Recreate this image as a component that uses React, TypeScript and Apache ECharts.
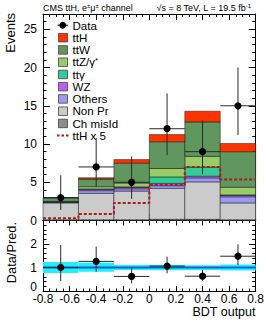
import React, { useEffect, useRef } from 'react';
import * as echarts from 'echarts';

// ---------------- data ----------------
const binEdges = [-0.8, -0.5333, -0.2667, 0, 0.2667, 0.5333, 0.8];
const binCenters = [-0.6667, -0.4, -0.1333, 0.1333, 0.4, 0.6667];

const chMisId = [0.1, 0.1, 0.1, 0.15, 0.15, 0.1];
const nonPr = [2.2, 3.45, 3.75, 4.05, 4.9, 2.2];
const others = [0.1, 0.35, 0.3, 0.35, 0.52, 0.8];
const wz = [0.05, 0.2, 0.2, 0.3, 0.22, 0.2];
const ttGamma = [0.0, 0.02, 0.05, 0.85, 1.2, 0.05];
const ttZ = [0.05, 0.3, 0.5, 1.1, 1.4, 1.0];
const ttW = [0.45, 1.0, 2.6, 3.5, 4.5, 4.65];
const ttH = [0.06, 0.17, 0.46, 0.93, 1.4, 1.07];
const ttHx5 = [0.3, 0.85, 2.3, 4.65, 7.0, 5.35];

const dataCounts = [3, 7, 5, 12, 9, 15];
const dataErrLo = [1.63, 2.58, 2.16, 3.42, 2.94, 3.82];
const dataErrHi = [2.92, 3.77, 3.38, 4.61, 4.11, 5.0];

const ratio = [1.0, 1.26, 0.62, 1.06, 0.63, 1.48];
const ratioErrLo = [0.57, 0.44, 0.29, 0.31, 0.2, 0.38];
const ratioErrHi = [0.96, 0.63, 0.38, 0.4, 0.26, 0.51];
const systLo = [0.77, 0.82, 0.89, 0.88, 0.89, 0.87];
const systHi = [1.23, 1.2, 1.11, 1.12, 1.1, 1.13];
const statLo = [0.95, 0.95, 0.96, 0.96, 0.96, 0.96];
const statHi = [1.05, 1.05, 1.04, 1.04, 1.04, 1.04];

const titleLeft = 'CMS ttH, e{s|±}μ{s|±} channel';
const titleRight = '√s = 8 TeV, L = 19.5 fb{s|-1}';
const legendLabels = ['Data', 'ttH', 'ttW', 'ttZ/γ{s|*}', 'ttγ', 'WZ', 'Others', 'Non Pr', 'Ch misId', 'ttH x 5'];

// ---------------- styles ----------------
const FONT = '"Liberation Sans", Arial, Helvetica, sans-serif';
const colors: Record<string, string> = {
  chMisId: '#8c8c8c',
  nonPr: '#cbcbcb',
  others: '#9a9af5',
  wz: '#c25cf0',
  ttGamma: '#33cc99',
  ttZ: '#99cc66',
  ttW: '#5f975f',
  ttH: '#ff3300',
  ttHx5: '#a81c1c',
};

const layers = [
  { key: 'chMisId', values: chMisId },
  { key: 'nonPr', values: nonPr },
  { key: 'others', values: others },
  { key: 'wz', values: wz },
  { key: 'ttGamma', values: ttGamma },
  { key: 'ttZ', values: ttZ },
  { key: 'ttW', values: ttW },
  { key: 'ttH', values: ttH },
];
const legendKeys = ['data', 'ttH', 'ttW', 'ttZ', 'ttGamma', 'wz', 'others', 'nonPr', 'chMisId', 'ttHx5'];

const rectRender = (fill: string, stroke: string, lw: number) => (params: any, api: any) => {
  const a = api.coord([api.value(0), api.value(3)]);
  const b = api.coord([api.value(1), api.value(2)]);
  return {
    type: 'rect',
    shape: { x: a[0], y: a[1], width: b[0] - a[0], height: b[1] - a[1] },
    style: { fill, stroke, lineWidth: lw },
  };
};

const errRender = (r: number) => (params: any, api: any) => {
  const x = api.value(0);
  const y = api.value(1);
  const lo = api.value(2);
  const hi = api.value(3);
  const c = api.coord([x, y]);
  const pl = api.coord([api.value(4), y]);
  const pr = api.coord([api.value(5), y]);
  const pLo = api.coord([x, y - lo]);
  const pHi = api.coord([x, y + hi]);
  const ls = { stroke: '#2a2a2a', lineWidth: 1 };
  return {
    type: 'group',
    children: [
      { type: 'line', shape: { x1: pl[0], y1: c[1], x2: pr[0], y2: c[1] }, style: ls },
      { type: 'line', shape: { x1: c[0], y1: pLo[1], x2: c[0], y2: pHi[1] }, style: ls },
      { type: 'circle', shape: { cx: c[0], cy: c[1], r }, style: { fill: '#000' } },
    ],
  };
};

function buildOption() {
  const series: any[] = [];
  const cum = binCenters.map(() => 0);
  layers.forEach((layer) => {
    const data = layer.values.map((v, i) => {
      const base = cum[i];
      cum[i] += v;
      return [binEdges[i], binEdges[i + 1], base, cum[i]];
    });
    series.push({
      type: 'custom',
      name: layer.key,
      xAxisIndex: 0,
      yAxisIndex: 0,
      encode: { x: [0, 1], y: [2, 3] },
      renderItem: rectRender(colors[layer.key], 'rgba(0,0,0,0.55)', 0.8),
      data,
      z: 2,
    });
  });

  // ttH x 5 step line
  const stepData = ttHx5.map((v, i) => [binEdges[i], v]);
  stepData.push([binEdges[6], ttHx5[5]]);
  series.push({
    type: 'line',
    name: 'ttHx5',
    xAxisIndex: 0,
    yAxisIndex: 0,
    step: 'end',
    symbol: 'none',
    data: stepData,
    lineStyle: { color: colors.ttHx5, width: 2, type: [3, 2] },
    z: 3,
  });

  // data points
  series.push({
    type: 'custom',
    name: 'data',
    xAxisIndex: 0,
    yAxisIndex: 0,
    renderItem: errRender(3.6),
    data: dataCounts.map((v, i) => [binCenters[i], v, dataErrLo[i], dataErrHi[i], binEdges[i], binEdges[i + 1]]),
    z: 5,
  });

  // ratio bands
  series.push({
    type: 'custom',
    name: 'syst',
    xAxisIndex: 2,
    yAxisIndex: 2,
    encode: { x: [0, 1], y: [2, 3] },
    renderItem: rectRender('#1ff0ff', 'none', 0),
    data: systLo.map((v, i) => [binEdges[i], binEdges[i + 1], v, systHi[i]]),
    z: 2,
  });
  series.push({
    type: 'custom',
    name: 'stat',
    xAxisIndex: 2,
    yAxisIndex: 2,
    encode: { x: [0, 1], y: [2, 3] },
    renderItem: rectRender('#00b4e8', 'none', 0),
    data: statLo.map((v, i) => [binEdges[i], binEdges[i + 1], v, statHi[i]]),
    z: 2,
  });
  series.push({
    type: 'line',
    name: 'unity',
    xAxisIndex: 2,
    yAxisIndex: 2,
    symbol: 'none',
    data: [[binEdges[0], 1], [binEdges[6], 1]],
    lineStyle: { color: '#1a55d0', width: 1.5 },
    z: 3,
  });
  series.push({
    type: 'custom',
    name: 'ratio',
    xAxisIndex: 2,
    yAxisIndex: 2,
    renderItem: errRender(3.6),
    data: ratio.map((v, i) => [binCenters[i], v, ratioErrLo[i], ratioErrHi[i], binEdges[i], binEdges[i + 1]]),
    z: 5,
  });

  const black = { color: '#000' };
  const axisBase = (majorLen: number, minorLen: number, split: number) => ({
    axisLine: { show: true, onZero: false, lineStyle: { color: '#000', width: 1 } },
    axisTick: { show: true, inside: true, length: majorLen, lineStyle: black },
    minorTick: { show: true, splitNumber: split, length: minorLen, lineStyle: black },
    splitLine: { show: false },
    minorSplitLine: { show: false },
  });
  const xFmt = (v: number) => {
    const r = Math.round(v * 10) / 10;
    return r === 0 ? '0' : String(r);
  };
  const labelStyle = { color: '#000', fontSize: 12, fontFamily: FONT };

  const xAxes = [
    { gridIndex: 0, position: 'bottom', ...axisBase(6, 3, 4), axisLabel: { show: false } },
    { gridIndex: 0, position: 'top', ...axisBase(6, 3, 4), axisLabel: { show: false } },
    {
      gridIndex: 1,
      position: 'bottom',
      ...axisBase(5, 2.5, 4),
      axisLabel: { show: true, margin: 3, lineHeight: 10, formatter: xFmt, ...labelStyle, showMinLabel: true, showMaxLabel: true },
    },
    { gridIndex: 1, position: 'top', ...axisBase(5, 2.5, 4), axisLabel: { show: false } },
  ].map((a) => ({ type: 'value', min: -0.8, max: 0.8, interval: 0.2, ...a }));

  const ratioYFmt = (v: number) => (v === 0 ? '{z|0}' : String(v));

  const yAxes = [
    { gridIndex: 0, position: 'left', min: 0, max: 27, interval: 5, ...axisBase(7, 3.5, 5), axisLabel: { show: true, margin: 6, showMaxLabel: false, lineHeight: 10, ...labelStyle } },
    { gridIndex: 0, position: 'right', min: 0, max: 27, interval: 5, ...axisBase(7, 3.5, 5), axisLabel: { show: false } },
    {
      gridIndex: 1,
      position: 'left',
      min: 0,
      max: 3,
      interval: 1,
      ...axisBase(6.5, 3.5, 5),
      axisLabel: {
        show: true,
        margin: 6,
        showMaxLabel: false,
        lineHeight: 6,
        formatter: ratioYFmt,
        ...labelStyle,
        rich: { z: { fontSize: 12, fontFamily: FONT, color: '#000', lineHeight: 6, padding: [0, 0, 9, 0] } },
      },
    },
    { gridIndex: 1, position: 'right', min: 0, max: 3, interval: 1, ...axisBase(6.5, 3.5, 5), axisLabel: { show: false } },
  ].map((a) => ({ type: 'value', ...a }));

  // legend graphics
  const legendEls: any[] = [];
  const lx = 58;
  legendLabels.forEach((label, i) => {
    const cy = 25.2 + 12.25 * i;
    const key = legendKeys[i];
    if (key === 'data') {
      legendEls.push({ type: 'line', shape: { x1: lx - 0.5, y1: cy, x2: lx + 10, y2: cy }, style: { stroke: '#000', lineWidth: 1 } });
      legendEls.push({ type: 'circle', shape: { cx: lx + 4.75, cy, r: 3.4 }, style: { fill: '#000' } });
    } else if (key === 'ttHx5') {
      legendEls.push({ type: 'line', shape: { x1: lx - 1, y1: cy, x2: lx + 10.5, y2: cy }, style: { stroke: colors.ttHx5, lineWidth: 2, lineDash: [2.5, 2] } });
    } else {
      legendEls.push({ type: 'rect', shape: { x: lx + 0.5, y: cy - 4, width: 9, height: 8.5 }, style: { fill: colors[key], stroke: '#444', lineWidth: 0.8 } });
    }
    legendEls.push({
      type: 'text',
      x: 72.5,
      y: cy,
      style: {
        text: label,
        fontSize: 11.6,
        lineHeight: 11,
        fontFamily: FONT,
        fill: '#000',
        verticalAlign: 'middle',
        align: 'left',
        rich: { s: { fontSize: 7.5, lineHeight: 11, verticalAlign: 'top', fontFamily: FONT, fill: '#000' } },
      },
    });
  });

  const graphic: any[] = [
    ...legendEls,
    {
      type: 'text',
      x: 43,
      y: 8,
      style: {
        text: titleLeft,
        fontSize: 9,
        lineHeight: 10,
        fontFamily: FONT,
        fill: '#000',
        verticalAlign: 'middle',
        align: 'left',
        rich: { s: { fontSize: 6, lineHeight: 10, verticalAlign: 'top', fontFamily: FONT, fill: '#000' } },
      },
    },
    {
      type: 'text',
      x: 251,
      y: 8,
      style: {
        text: titleRight,
        fontSize: 9,
        lineHeight: 10,
        fontFamily: FONT,
        fill: '#000',
        verticalAlign: 'middle',
        align: 'right',
        rich: { s: { fontSize: 6, lineHeight: 10, verticalAlign: 'top', fontFamily: FONT, fill: '#000' } },
      },
    },
    {
      type: 'text',
      x: 10,
      y: 13,
      rotation: Math.PI / 2,
      style: { text: 'Events', fontSize: 13, fontFamily: FONT, fill: '#000', align: 'right', verticalAlign: 'middle' },
    },
    {
      type: 'text',
      x: 11.5,
      y: 222,
      rotation: Math.PI / 2,
      style: { text: 'Data/Pred.', fontSize: 12.8, fontFamily: FONT, fill: '#000', align: 'right', verticalAlign: 'middle' },
    },
    {
      type: 'text',
      x: 255.5,
      y: 312,
      style: { text: 'BDT output', fontSize: 12.5, lineHeight: 12, fontFamily: FONT, fill: '#000', align: 'right', verticalAlign: 'middle' },
    },
  ];

  return {
    animation: false,
    backgroundColor: '#fff',
    textStyle: { fontFamily: FONT },
    grid: [
      { left: 43, top: 14, width: 212.7, height: 206.5, outerBoundsMode: 'none', containLabel: false },
      { left: 43, top: 220.5, width: 212.7, height: 70.5, outerBoundsMode: 'none', containLabel: false },
    ],
    xAxis: xAxes,
    yAxis: yAxes,
    series,
    graphic,
  };
}

export default function App() {
  const ref = useRef<HTMLDivElement>(null);
  useEffect(() => {
    if (!ref.current) return;
    const chart = echarts.init(ref.current, undefined, { renderer: 'svg' });
    chart.setOption(buildOption() as any);
    return () => chart.dispose();
  }, []);
  return (
    <div
      ref={ref}
      style={{ position: 'absolute', left: 0, top: 0, width: 266, height: 322, background: '#fff' }}
    />
  );
}
